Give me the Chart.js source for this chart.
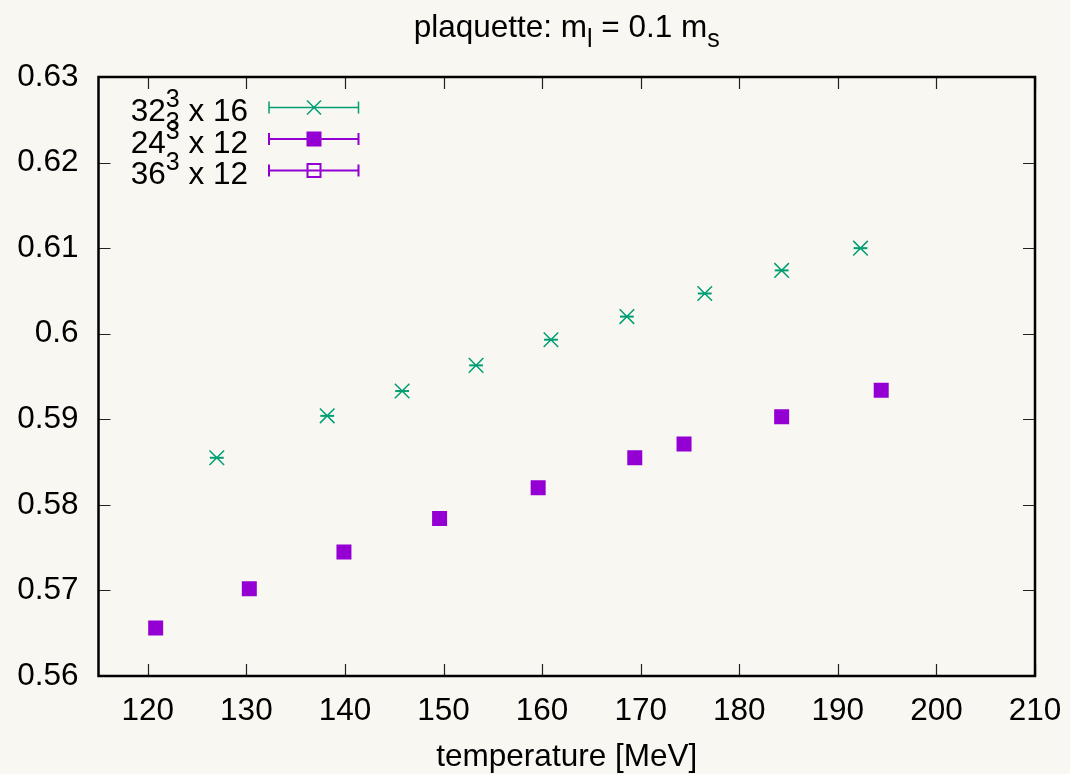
<!DOCTYPE html>
<html>
<head>
<meta charset="utf-8">
<title>plaquette</title>
<script src="https://cdn.jsdelivr.net/npm/chart.js@4.4.1/dist/chart.umd.min.js"></script>
<style>
    html, body { margin: 0; padding: 0; background: #f8f7f1; }
    #wrap { width: 1070px; height: 774px; }
</style>
</head>
<body>
<div id="wrap"><canvas id="plaqChart" width="1070" height="774"></canvas></div>
<script>
// data
const temp16 = [127.0, 138.2, 145.8, 153.3, 160.9, 168.6, 176.5, 184.3, 192.3];
const plaq16 = [0.5855, 0.5904, 0.5933, 0.5963, 0.5993, 0.6020, 0.6047, 0.6074, 0.6100];
const err16 = [0.7, 0.7, 0.7, 0.7, 0.7, 0.7, 0.7, 0.7, 0.7];

const temp24 = [120.8, 130.3, 139.9, 149.6, 159.6, 169.4, 174.4, 184.3, 194.4];
const plaq24 = [0.5656, 0.5702, 0.5745, 0.5784, 0.5820, 0.5855, 0.5871, 0.5903, 0.5934];

const temp36 = [];
const plaq36 = [];

const xTicks = [120, 130, 140, 150, 160, 170, 180, 190, 200, 210];
const yTicks = [0.56, 0.57, 0.58, 0.59, 0.6, 0.61, 0.62, 0.63];

const green = '#009e73';
const purple = '#9400d3';
const FONT = '"Liberation Sans", Arial, Helvetica, sans-serif';
const FS = 31.5;   // main text size
const SS = 25;     // super/subscript size

function toPoints(xs, ys) {
    return xs.map((x, i) => ({ x: x, y: ys[i] }));
}

// draw text made of pieces, some of them raised or lowered
function drawRich(ctx, pieces, x, y, align) {
    let total = 0;
    const widths = pieces.map(p => {
        ctx.font = p.size + 'px ' + FONT;
        const w = p.noAdvance ? 0 : ctx.measureText(p.t).width;
        total += w;
        return w;
    });
    let cx = align === 'right' ? x - total : (align === 'center' ? x - total / 2 : x);
    ctx.textAlign = 'left';
    ctx.textBaseline = 'alphabetic';
    ctx.fillStyle = '#000';
    pieces.forEach((p, i) => {
        ctx.font = p.size + 'px ' + FONT;
        ctx.fillText(p.t, cx, y + (p.dy || 0));
        cx += widths[i];
    });
}

// horizontal error bars
const errorBars = {
    id: 'errorBars',
    afterDatasetsDraw(chart) {
        const ctx = chart.ctx;
        const xs = chart.scales.x;
        chart.data.datasets.forEach((ds, di) => {
            if (!ds.xerr) return;
            const meta = chart.getDatasetMeta(di);
            ctx.save();
            ctx.strokeStyle = ds.borderColor;
            ctx.lineWidth = 2;
            meta.data.forEach((pt, i) => {
                const v = ds.data[i].x;
                const x0 = xs.getPixelForValue(v - ds.xerr[i]);
                const x1 = xs.getPixelForValue(v + ds.xerr[i]);
                ctx.beginPath();
                ctx.moveTo(x0, pt.y);
                ctx.lineTo(x1, pt.y);
                ctx.stroke();
            });
            ctx.restore();
        });
    }
};

// gnuplot style frame with inward ticks on all four sides
const frame = {
    id: 'frame',
    afterDraw(chart) {
        const ctx = chart.ctx;
        const a = chart.chartArea;
        const xs = chart.scales.x;
        const ys = chart.scales.y;
        const tl = 12;
        ctx.save();
        ctx.strokeStyle = '#222';
        ctx.lineWidth = 1.2;
        ctx.beginPath();
        xTicks.forEach(v => {
            const px = Math.round(xs.getPixelForValue(v)) + 0.5;
            ctx.moveTo(px, a.bottom);
            ctx.lineTo(px, a.bottom - tl);
            ctx.moveTo(px, a.top);
            ctx.lineTo(px, a.top + tl);
        });
        yTicks.forEach(v => {
            const py = Math.round(ys.getPixelForValue(v)) + 0.5;
            ctx.moveTo(a.left, py);
            ctx.lineTo(a.left + tl, py);
            ctx.moveTo(a.right, py);
            ctx.lineTo(a.right - tl, py);
        });
        ctx.stroke();
        ctx.strokeStyle = '#000';
        ctx.lineWidth = 2.5;
        ctx.strokeRect(a.left, a.top, a.right - a.left, a.bottom - a.top);
        ctx.restore();
    }
};

// title, axis label and the key
const texts = {
    id: 'texts',
    afterDraw(chart) {
        const ctx = chart.ctx;
        const a = chart.chartArea;
        const mid = (a.left + a.right) / 2;
        ctx.save();
        drawRich(ctx, [
            { t: 'plaquette: m', size: FS },
            { t: 'l', size: SS, dy: 10 },
            { t: ' = 0.1 m', size: FS },
            { t: 's', size: SS, dy: 10 }
        ], mid, 37, 'center');
        drawRich(ctx, [{ t: 'temperature [MeV]', size: FS }], mid, 766, 'center');

        const keys = [
            { pieces: [{ t: '32', size: FS }, { t: '3', size: SS, dy: -14, noAdvance: true }, { t: '3', size: SS, dy: 9 }, { t: ' x 16', size: FS }], color: green, marker: 'cross' },
            { pieces: [{ t: '24', size: FS }, { t: '3', size: SS, dy: -14 }, { t: ' x 12', size: FS }], color: purple, marker: 'box' },
            { pieces: [{ t: '36', size: FS }, { t: '3', size: SS, dy: -14 }, { t: ' x 12', size: FS }], color: purple, marker: 'openbox' }
        ];
        keys.forEach((k, i) => {
            const base = 121 + i * 31.5;
            const by = 107.5 + i * 31.5;
            drawRich(ctx, k.pieces, 248, base, 'right');
            ctx.strokeStyle = k.color;
            ctx.fillStyle = k.color;
            ctx.lineWidth = k.marker === 'cross' ? 1.5 : 2;
            ctx.beginPath();
            ctx.moveTo(269, by); ctx.lineTo(358.5, by);
            ctx.moveTo(269, by - 6); ctx.lineTo(269, by + 6);
            ctx.moveTo(358.5, by - 6); ctx.lineTo(358.5, by + 6);
            ctx.stroke();
            const mx = 314;
            if (k.marker === 'cross') {
                ctx.beginPath();
                ctx.moveTo(mx - 7, by - 7); ctx.lineTo(mx + 7, by + 7);
                ctx.moveTo(mx - 7, by + 7); ctx.lineTo(mx + 7, by - 7);
                ctx.stroke();
            } else if (k.marker === 'box') {
                ctx.fillRect(mx - 7.5, by - 7.5, 15, 15);
            } else {
                ctx.lineWidth = 2;
                ctx.strokeRect(mx - 6.5, by - 6.5, 13, 13);
            }
        });
        ctx.restore();
    }
};

const bgFill = {
    id: 'bgFill',
    beforeDraw(chart) {
        const ctx = chart.ctx;
        ctx.save();
        ctx.fillStyle = '#f8f7f1';
        ctx.fillRect(0, 0, chart.width, chart.height);
        ctx.restore();
    }
};

new Chart(document.getElementById('plaqChart').getContext('2d'), {
    type: 'scatter',
    data: {
        datasets: [
            {
                label: '32^3 x 16',
                data: toPoints(temp16, plaq16),
                xerr: err16,
                pointStyle: 'crossRot',
                pointRadius: 10.3,
                borderColor: green,
                backgroundColor: green,
                borderWidth: 1.5
            },
            {
                label: '24^3 x 12',
                data: toPoints(temp24, plaq24),
                pointStyle: 'rect',
                pointRadius: 10.6,
                borderColor: purple,
                backgroundColor: purple,
                borderWidth: 0
            },
            {
                label: '36^3 x 12',
                data: toPoints(temp36, plaq36),
                pointStyle: 'rect',
                pointRadius: 9,
                borderColor: purple,
                backgroundColor: 'rgba(0,0,0,0)',
                borderWidth: 2
            }
        ]
    },
    options: {
        responsive: false,
        animation: false,
        layout: {
            padding: { left: 0, right: 35, top: 77, bottom: 0 }
        },
        plugins: {
            legend: { display: false },
            title: { display: false },
            tooltip: { enabled: false }
        },
        scales: {
            x: {
                type: 'linear',
                min: 115,
                max: 210,
                afterFit: (scale) => {
                    scale.height = 98;
                    scale.paddingLeft = 0;
                    scale.paddingRight = 0;
                },
                afterBuildTicks: (scale) => { scale.ticks = xTicks.map(v => ({ value: v })); },
                grid: { display: false, drawTicks: false },
                border: { display: false },
                ticks: {
                    color: '#000',
                    padding: 16,
                    font: { family: FONT, size: FS },
                    maxRotation: 0,
                    autoSkip: false
                }
            },
            y: {
                type: 'linear',
                min: 0.56,
                max: 0.63,
                afterFit: (scale) => {
                    scale.width = 98.5;
                    scale.paddingTop = 0;
                    scale.paddingBottom = 0;
                },
                afterBuildTicks: (scale) => { scale.ticks = yTicks.map(v => ({ value: v })); },
                grid: { display: false, drawTicks: false },
                border: { display: false },
                ticks: {
                    color: '#000',
                    padding: 20,
                    font: { family: FONT, size: FS },
                    autoSkip: false,
                    callback: (v) => String(Number(v.toFixed(2)))
                }
            }
        }
    },
    plugins: [bgFill, errorBars, frame, texts]
});
</script>
</body>
</html>
